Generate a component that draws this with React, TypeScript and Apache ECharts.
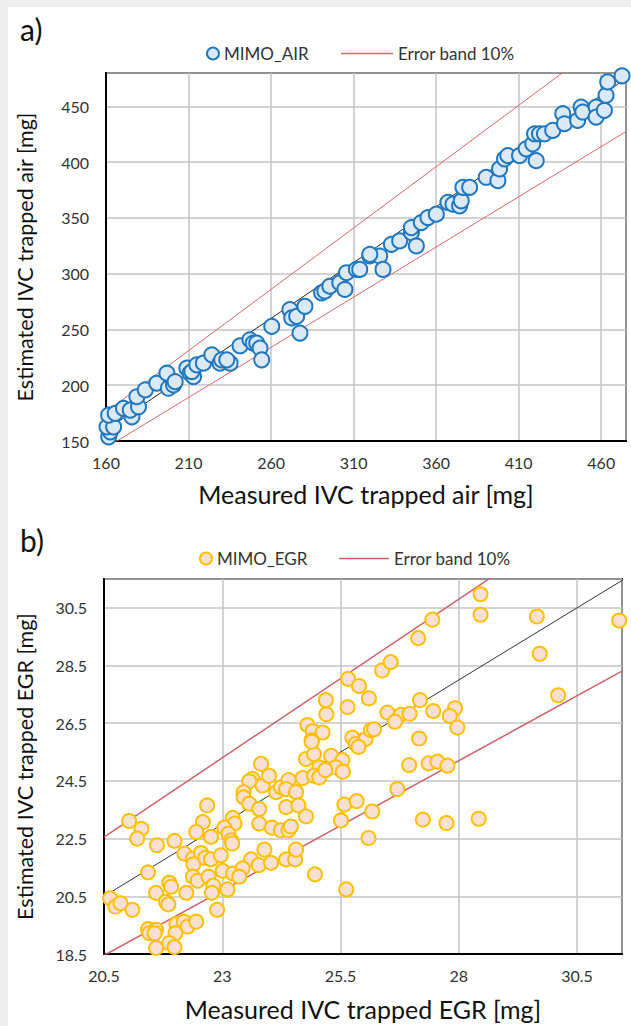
import React, { useEffect, useRef } from "react";
import * as echarts from "echarts";

const FONT = "Lato, 'Open Sans', sans-serif";

// Panel a) : measured vs estimated IVC trapped air [mg]
const airPoints: number[][] = [
  [161.6, 153.7], [162.6, 158.2], [160.6, 162.7], [164.6, 162.7], [161.6, 173.2], [165.6, 174.8],
  [170.6, 179.3], [175.7, 171.7], [174.7, 177.7], [179.7, 180.7], [178.7, 189.7], [183.8, 195.8],
  [190.8, 201.8], [196.9, 210.8], [197.8, 197.3], [200.9, 200.3], [201.9, 203.2], [209, 215.3],
  [211, 210.8], [213, 207.7], [212, 212.3], [215, 218.3], [219, 219.8], [224.1, 227.3],
  [229.1, 219.8], [230.1, 222.8], [235.2, 219.8], [233.2, 222.8], [241.2, 235.4], [247.2, 240.8],
  [249.2, 237.8], [251.3, 237.8], [253.3, 233.3], [254.3, 222.8], [260.4, 252.8], [271.4, 267.8],
  [272.5, 260.4], [275.5, 261.8], [277.5, 246.8], [280.5, 270.8], [290.6, 282.9], [292.6, 284.3],
  [295.6, 288.8], [301.6, 291.9], [304.7, 285.9], [305.7, 300.9], [311.7, 303.9], [313.7, 303.9],
  [319.8, 315.9], [325.8, 315.9], [327.8, 303.9], [319.8, 317.4], [332.9, 326.4], [337.9, 329.4],
  [345, 336.9], [348, 324.9], [345, 341.4], [351, 345.9], [355, 350.4], [360.1, 353.4],
  [367.1, 364], [370.2, 362.4], [374.2, 360.9], [375.2, 365.4], [376.2, 377.5], [380.3, 377.5],
  [390.3, 386.5], [397.4, 383.4], [398.4, 394], [401.4, 403], [403.4, 406], [410.5, 406],
  [414.5, 412], [420.6, 401.4], [418.5, 416.5], [419.6, 425.5], [422.6, 425.5], [425.6, 425.5],
  [430.6, 428.5], [436.7, 443.5], [437.7, 434.5], [445.7, 437.5], [447.8, 449.5], [448.8, 445],
  [456.9, 449.5], [456.9, 440.5], [461.9, 446.5], [462.9, 460], [463.9, 472], [472.6, 477.5],
];

// Panel b) : measured vs estimated IVC trapped EGR [mg]
const egrPoints: number[][] = [
  [25.66, 28.04], [25.89, 27.79], [25.19, 27.3], [25.2, 26.81], [25.65, 27.06], [24.8, 26.44],
  [24.91, 26.23], [25.12, 26.18], [24.89, 25.91], [24.77, 25.26], [24.94, 25.43], [25.3, 25.37],
  [25.54, 25.22], [25.75, 26.0], [25.82, 25.78], [23.82, 25.09], [25.05, 24.97], [25.4, 24.97],
  [28.46, 30.97], [28.46, 30.26], [29.65, 30.2], [31.39, 30.06], [29.71, 28.91], [27.44, 30.09],
  [27.14, 29.45], [26.38, 28.33], [26.56, 28.62], [26.1, 27.36], [27.18, 27.3], [26.49, 26.87],
  [26.77, 26.79], [26.96, 26.83], [26.65, 26.55], [27.46, 26.92], [27.92, 27.02], [27.81, 26.75],
  [27.97, 26.35], [30.1, 27.47], [27.16, 25.97], [26.03, 25.95], [26.14, 26.26], [26.21, 26.29],
  [25.88, 25.68], [26.95, 25.05], [27.36, 25.11], [27.55, 25.17], [27.76, 25.03], [25.55, 24.82],
  [26.7, 24.22], [25.58, 23.68], [25.84, 23.8], [26.17, 23.44], [25.51, 23.13], [27.24, 23.16],
  [27.74, 23.04], [28.42, 23.19], [26.09, 22.52], [25.62, 20.74], [24.89, 25.86], [23.64, 24.57],
  [23.57, 24.49], [23.85, 24.34], [23.99, 24.68], [24.14, 24.11], [24.24, 24.28], [24.4, 24.53],
  [24.35, 24.22], [24.56, 24.11], [24.7, 24.6], [24.94, 24.68], [25.05, 24.62], [25.18, 24.88],
  [23.45, 24.11], [23.45, 23.93], [23.57, 23.71], [23.78, 23.53], [24.35, 23.59], [24.61, 23.65],
  [24.77, 23.27], [23.78, 23.02], [24.05, 22.88], [24.24, 22.79], [24.4, 22.79], [24.45, 22.92],
  [22.68, 23.65], [23.22, 23.22], [23.26, 23.02], [23.04, 22.88], [23.13, 22.67], [23.19, 22.44],
  [23.21, 22.33], [22.59, 23.07], [22.45, 22.73], [22.76, 22.56], [21.99, 22.42], [21.62, 22.27],
  [21.29, 22.84], [21.03, 23.11], [21.2, 22.5], [22.2, 21.98], [22.38, 21.81], [22.39, 21.61],
  [22.55, 22.0], [22.64, 21.83], [22.76, 21.78], [22.97, 21.92], [23.89, 22.12], [23.61, 21.78],
  [23.77, 21.58], [24.03, 21.66], [24.35, 21.78], [24.54, 21.78], [24.56, 22.12], [24.96, 21.26],
  [23.01, 21.38], [23.23, 21.29], [23.43, 21.47], [23.36, 21.18], [21.43, 21.33], [22.38, 21.18],
  [22.48, 21.04], [22.71, 21.18], [22.81, 20.87], [22.78, 20.62], [23.11, 20.74], [22.24, 20.62],
  [21.88, 20.97], [21.92, 20.83], [21.6, 20.62], [21.81, 20.31], [21.86, 20.22], [20.63, 20.43],
  [20.74, 20.14], [20.85, 20.26], [21.1, 20.03], [22.89, 20.03], [21.43, 19.36], [21.6, 19.34],
  [21.46, 19.22], [21.57, 19.22], [22.03, 19.54], [22.19, 19.62], [22.27, 19.45], [22.45, 19.62],
  [22.01, 19.22], [21.88, 18.88], [21.99, 18.74], [21.6, 18.71],
];

// Axis ranges and tick steps
const airXRange = [160, 475];
const airYRange = [150, 480];
const airStep = 50;
const egrXRange = [20.5, 31.45];
const egrYRange = [18.5, 31.5];
const egrXStep = 2.5;
const egrYStep = 2;
const bandFactors = [1.1, 0.9]; // Error band 10%

const BAND_A = "Error band 10%";
const BAND_B = "Error band 10% ";

function valueAxis(
  gridIndex: number,
  range: number[],
  step: number,
  name: string,
  nameGap: number,
  isY: boolean
) {
  return {
    type: "value",
    gridIndex,
    min: range[0],
    max: range[1],
    interval: step,
    name,
    nameLocation: "middle",
    nameGap,
    nameTextStyle: { fontSize: isY ? 21.5 : 25, color: "#111", fontFamily: FONT },
    axisLine: { show: true, onZero: false, lineStyle: { color: "#000", width: 2 } },
    axisTick: { show: false },
    axisLabel: {
      fontSize: 16,
      color: "#333",
      margin: isY ? 17 : 13,
      showMaxLabel: false,
      fontFamily: FONT,
    },
    splitLine: { show: true, lineStyle: { color: "#c4c4c4", width: 1.5 } },
  };
}

function lineSeries(name: string, idx: number, data: number[][], color: string, width: number) {
  return {
    name,
    type: "line",
    xAxisIndex: idx,
    yAxisIndex: idx,
    data,
    symbol: "none",
    showSymbol: false,
    clip: true,
    silent: true,
    z: 2,
    lineStyle: { color, width },
    itemStyle: { color },
  };
}

export default function App() {
  const ref = useRef<HTMLDivElement>(null);
  useEffect(() => {
    document.body.style.margin = "0";
    const chart = echarts.init(ref.current!, undefined, { renderer: "svg" });

    const diagA = airXRange.map((x) => [x, x]);
    const diagB = [egrXRange[0], egrYRange[1]].map((x) => [x, x]);
    const bandsA = bandFactors.map((f) => airXRange.map((x) => [x, x * f]));
    const bandsB = bandFactors.map((f) => egrXRange.map((x) => [x, x * f]));

    const legendBase = {
      orient: "horizontal",
      selectedMode: false,
      textStyle: { fontSize: 17, color: "#333", fontFamily: FONT },
    };

    chart.setOption({
      animation: false,
      backgroundColor: "#fff",
      textStyle: { fontFamily: FONT },
      graphic: [
        { type: "rect", shape: { x: 0, y: 0, width: 631, height: 7 }, style: { fill: "#eeeeee" }, silent: true },
        { type: "rect", shape: { x: 0, y: 0, width: 8, height: 1026 }, style: { fill: "#eeeeee" }, silent: true },
      ],
      title: [
        { text: "a)", left: 15, top: 9, textStyle: { fontSize: 30, fontWeight: "normal", color: "#111", fontFamily: FONT } },
        { text: "b)", left: 15, top: 520, textStyle: { fontSize: 30, fontWeight: "normal", color: "#111", fontFamily: FONT } },
      ],
      legend: [
        { ...legendBase, data: ["MIMO_AIR"], left: 201, top: 40, itemWidth: 12, itemHeight: 12 },
        {
          ...legendBase,
          data: [{ name: BAND_A, icon: "rect" }],
          left: 336,
          top: 40,
          itemWidth: 52,
          itemHeight: 1.3,
        },
        { ...legendBase, data: ["MIMO_EGR"], left: 194, top: 545, itemWidth: 12, itemHeight: 12 },
        {
          ...legendBase,
          data: [{ name: BAND_B, icon: "rect" }],
          left: 334,
          top: 545,
          itemWidth: 50,
          itemHeight: 1.3,
          formatter: () => "Error band 10%",
        },
      ],
      grid: [
        { left: 106, top: 73, width: 520, height: 368, show: true, borderColor: "#000", borderWidth: 2, backgroundColor: "transparent" },
        { left: 104, top: 579, width: 518, height: 375, show: true, borderColor: "#000", borderWidth: 2, backgroundColor: "transparent" },
      ],
      xAxis: [
        valueAxis(0, airXRange, airStep, "Measured IVC trapped air [mg]", 40, false),
        valueAxis(1, egrXRange, egrXStep, "Measured IVC trapped EGR [mg]", 42, false),
      ],
      yAxis: [
        valueAxis(0, airYRange, airStep, "Estimated IVC trapped air [mg]", 70, true),
        valueAxis(1, egrYRange, egrYStep, "Estimated IVC trapped EGR [mg]", 68, true),
      ],
      series: [
        lineSeries("diagA", 0, diagA, "#222", 1),
        lineSeries(BAND_A, 0, bandsA[0], "#e06666", 1),
        lineSeries(BAND_A, 0, bandsA[1], "#e06666", 1),
        {
          name: "MIMO_AIR",
          type: "scatter",
          xAxisIndex: 0,
          yAxisIndex: 0,
          data: airPoints,
          symbol: "circle",
          symbolSize: 15,
          z: 4,
          itemStyle: { color: "#dbe8f5", borderColor: "#1f78c1", borderWidth: 2, opacity: 1 },
        },
        lineSeries("diagB", 1, diagB, "#333", 1),
        lineSeries(BAND_B, 1, bandsB[0], "#d0606a", 1.5),
        lineSeries(BAND_B, 1, bandsB[1], "#d0606a", 1.5),
        {
          name: "MIMO_EGR",
          type: "scatter",
          xAxisIndex: 1,
          yAxisIndex: 1,
          data: egrPoints,
          symbol: "circle",
          symbolSize: 14,
          z: 4,
          itemStyle: { color: "#fae0d3", borderColor: "#ffc000", borderWidth: 2, opacity: 1 },
        },
      ],
    });
    return () => chart.dispose();
  }, []);
  return (
    <div
      ref={ref}
      style={{ position: "absolute", left: 0, top: 0, width: 631, height: 1026 }}
    />
  );
}
